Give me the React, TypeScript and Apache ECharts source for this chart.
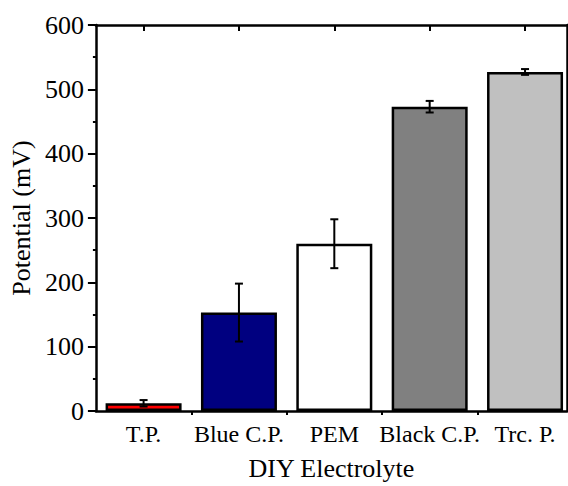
import React, { useEffect, useRef } from "react";
import * as echarts from "echarts";

const categories = ["T.P.", "Blue C.P.", "PEM", "Black C.P.", "Trc. P."];
const values = [12, 153, 260, 473, 527];
const errors = [5, 45, 38, 9, 4.5];
const colors = ["#FF0000", "#000080", "#FFFFFF", "#808080", "#C0C0C0"];
const yTicks = [0, 100, 200, 300, 400, 500, 600];

const FONT = "Liberation Serif";

export default function App() {
  const ref = useRef<HTMLDivElement>(null);
  useEffect(() => {
    document.body.style.margin = "0";
    if (!ref.current) return;
    const chart = echarts.init(ref.current, undefined, { renderer: "svg" });
    const positions = categories.map((_, i) => i + 1);
    const xBase = {
      type: "value" as const,
      min: 0.5,
      max: 5.44,
      splitLine: { show: false },
      axisLine: { show: true, onZero: false, lineStyle: { color: "#000", width: 2.5 } },
    };
    chart.setOption({
      animation: false,
      backgroundColor: "#fff",
      grid: { left: 90, right: 1, top: 25, bottom: 71, containLabel: false },
      xAxis: [
        {
          ...xBase,
          position: "bottom",
          name: "DIY Electrolyte",
          nameLocation: "middle",
          nameGap: 44,
          nameTextStyle: { fontFamily: FONT, fontSize: 26, color: "#000" },
          axisTick: {
            show: true,
            inside: false,
            length: 4,
            customValues: [1.5, 2.5, 3.5, 4.5],
            lineStyle: { color: "#000", width: 2 },
          },
          axisLabel: {
            show: true,
            customValues: positions,
            margin: 11,
            fontFamily: FONT,
            fontSize: 24,
            color: "#000",
            formatter: (v: number) => categories[Math.round(v) - 1] ?? "",
          },
        },
        {
          ...xBase,
          position: "top",
          axisTick: {
            show: true,
            inside: true,
            length: 6,
            customValues: positions,
            lineStyle: { color: "#000", width: 2 },
          },
          axisLabel: { show: false },
        },
        {
          ...xBase,
          position: "top",
          axisLine: { show: false },
          axisTick: {
            show: true,
            inside: true,
            length: 3,
            customValues: [1.5, 2.5, 3.5, 4.5],
            lineStyle: { color: "#000", width: 2 },
          },
          axisLabel: { show: false },
        },
      ],
      yAxis: [
        {
          type: "value",
          min: 0,
          max: 600,
          interval: 100,
          position: "left",
          name: "Potential (mV)",
          nameLocation: "middle",
          nameGap: 56,
          nameTextStyle: { fontFamily: FONT, fontSize: 26, color: "#000" },
          splitLine: { show: false },
          axisLine: { show: true, lineStyle: { color: "#000", width: 2.5 } },
          axisTick: { show: true, inside: false, length: 8, lineStyle: { color: "#000", width: 2 } },
          minorTick: { show: true, splitNumber: 2, length: 3, lineStyle: { color: "#000", width: 2 } },
          axisLabel: {
            margin: 12,
            fontFamily: FONT,
            fontSize: 26,
            color: "#000",
            customValues: yTicks,
          },
        },
        {
          type: "value",
          min: 0,
          max: 600,
          interval: 100,
          position: "right",
          splitLine: { show: false },
          axisLine: { show: true, lineStyle: { color: "#000", width: 2.5 } },
          axisTick: { show: true, inside: false, length: 6, lineStyle: { color: "#000", width: 2 } },
          axisLabel: { show: false },
        },
      ],
      series: [
        {
          type: "bar",
          xAxisIndex: 0,
          yAxisIndex: 0,
          barWidth: 76,
          data: values.map((v, i) => ({
            value: [positions[i], v],
            itemStyle: { color: colors[i], borderColor: "#000", borderWidth: 2.5 },
          })),
        },
        {
          type: "custom",
          xAxisIndex: 0,
          yAxisIndex: 0,
          data: values.map((v, i) => [positions[i], v - errors[i], v + errors[i]]),
          renderItem: (params: any, api: any) => {
            const x = api.value(0);
            const lo = api.coord([x, api.value(1)]);
            const hi = api.coord([x, api.value(2)]);
            const hw = 4;
            const style = { stroke: "#000", lineWidth: 2 };
            return {
              type: "group",
              children: [
                { type: "line", shape: { x1: lo[0], y1: lo[1], x2: hi[0], y2: hi[1] }, style },
                { type: "line", shape: { x1: lo[0] - hw, y1: lo[1], x2: lo[0] + hw, y2: lo[1] }, style },
                { type: "line", shape: { x1: hi[0] - hw, y1: hi[1], x2: hi[0] + hw, y2: hi[1] }, style },
              ],
            };
          },
          z: 5,
        },
      ],
    });
    return () => chart.dispose();
  }, []);
  return <div ref={ref} style={{ width: 568, height: 486 }} />;
}
